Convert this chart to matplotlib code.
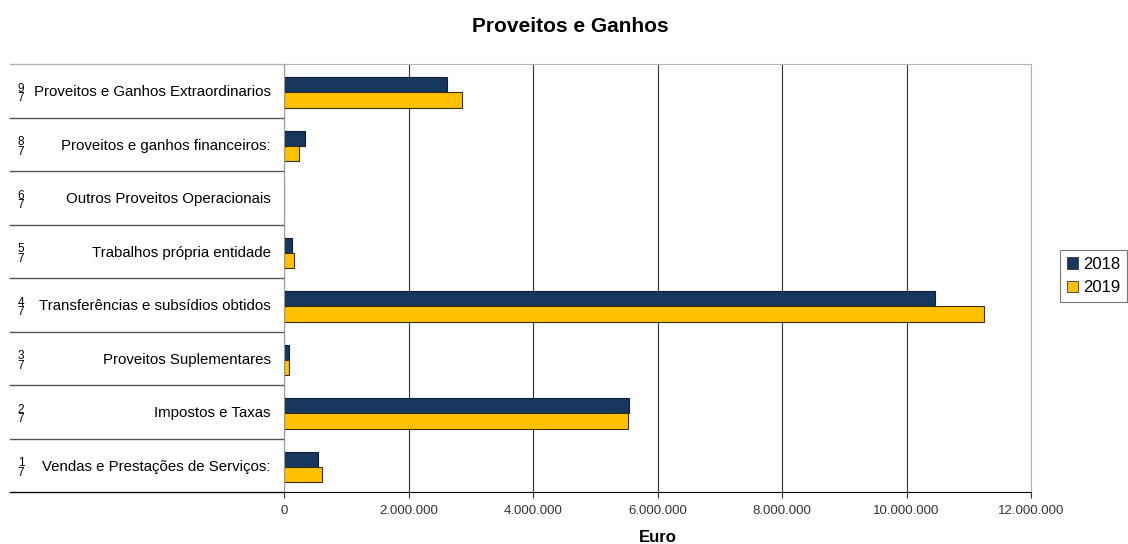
import matplotlib.pyplot as plt
from matplotlib.patches import Patch
import matplotlib.transforms as mtransforms
import numpy as np

plt.rcParams['font.family'] = ['Liberation Sans', 'DejaVu Sans']

# categories bottom to top
numbers = ["1", "2", "3", "4", "5", "6", "8", "9"]
categories = [
    "Vendas e Prestações de Serviços:",
    "Impostos e Taxas",
    "Proveitos Suplementares",
    "Transferências e subsídios obtidos",
    "Trabalhos própria entidade",
    "Outros Proveitos Operacionais",
    "Proveitos e ganhos financeiros:",
    "Proveitos e Ganhos Extraordinarios",
]
values_2018 = [550000, 5550000, 80000, 10450000, 130000, 0, 340000, 2620000]
values_2019 = [610000, 5520000, 80000, 11240000, 160000, 0, 240000, 2860000]
series_names = ["2018", "2019"]
colors = ["#17375E", "#FFC000"]
xticks = np.arange(0, 12000001, 2000000)

fig = plt.figure(figsize=(11.28, 5.44), dpi=100)
ax = fig.add_axes([284 / 1128, 52 / 544, 747 / 1128, 428 / 544])

y = np.arange(len(categories))
h = 0.286
ax.barh(y + h / 2 - 0.03, values_2018, height=h, color=colors[0], edgecolor="#0d1f36", linewidth=0.8)
ax.barh(y - h / 2 - 0.03, values_2019, height=h, color=colors[1], edgecolor="#3a3000", linewidth=0.8)

ax.set_xlim(0, 12000000)
ax.set_ylim(-0.5, len(categories) - 0.5)
ax.set_xticks(xticks)
ax.set_xticklabels([f"{v:,}".replace(",", ".") for v in xticks], fontsize=9.5, color="#333333")
ax.tick_params(axis="x", length=4, color="#333333", pad=5)
ax.tick_params(axis="y", length=0)
ax.set_yticks([])
ax.grid(axis="x", color="#333333", linewidth=0.8)
ax.set_axisbelow(True)

for s in ["top", "right"]:
    ax.spines[s].set_color("#b3b3b3")
ax.spines["left"].set_color("#999999")
ax.spines["bottom"].set_color("#000000")

# label column with boxes
trans = mtransforms.blended_transform_factory(ax.transAxes, ax.transData)
x_left = (10 - 284) / 747
for b in np.arange(-0.5, len(categories), 1.0):
    col = "#b3b3b3" if b == len(categories) - 0.5 else "#555555"
    if b == -0.5:
        col = "#000000"
    ax.plot([x_left, 0], [b, b], transform=trans, color=col, linewidth=1, clip_on=False)

for yi, (num, cat) in enumerate(zip(numbers, categories)):
    ax.text(-13 / 747, yi - 0.03, cat, transform=trans, ha="right", va="center", fontsize=10.8)
    ax.text((21 - 284) / 747, yi - 0.05, num + "\n7", transform=trans, ha="center", va="center",
            fontsize=8.5, linespacing=0.75)

ax.set_xlabel("Euro", fontsize=12, fontweight="bold", labelpad=10)
fig.text(570 / 1128, 1 - 26 / 544, "Proveitos e Ganhos", ha="center", va="center",
         fontsize=15, fontweight="bold")

handles = [Patch(facecolor=c, edgecolor="#333333", linewidth=0.6) for c in colors]
leg = fig.legend(handles, series_names, loc="center left", bbox_to_anchor=(1060 / 1128, 1 - 276 / 544),
                 fontsize=12, frameon=True, fancybox=False, handlelength=0.7, handleheight=0.7,
                 handletextpad=0.3, borderpad=0.4, labelspacing=0.5, borderaxespad=0)
leg.get_frame().set_edgecolor("#555555")
leg.get_frame().set_linewidth(0.8)

fig.savefig("out.png", dpi=100)
